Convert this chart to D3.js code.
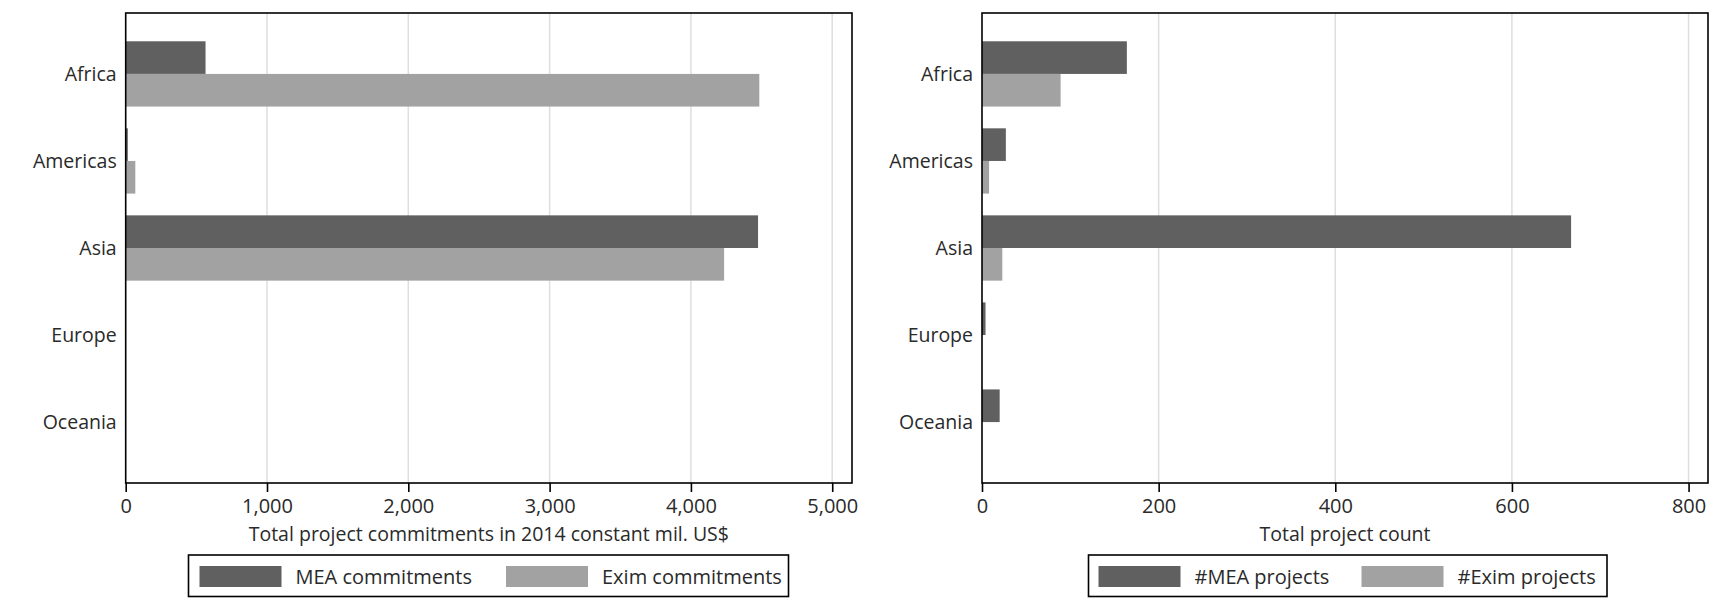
<!DOCTYPE html>
<html>
<head>
<meta charset="utf-8">
<script src="https://cdnjs.cloudflare.com/ajax/libs/d3/7.8.5/d3.min.js"></script>
<style>
  body { margin: 0; background: #fff; }
  svg text { font-family: "Open Sans", "Noto Sans", sans-serif; fill: #2a2a2a; }
</style>
</head>
<body>
<div id="chart"></div>
<script>
// regions shown on the y axis
var regions = ['Africa', 'Americas', 'Asia', 'Europe', 'Oceania']

// left panel: commitments, 2014 constant mil. US$
var meaCommit  = [565, 15, 4475, 0, 0]
var eximCommit = [4484, 68, 4235, 0, 0]
var commitTicks = [0, 1000, 2000, 3000, 4000, 5000]

// right panel: project counts
var meaCount  = [164, 27, 667, 4, 20]
var eximCount = [89, 8, 23, 0, 0]
var countTicks = [0, 200, 400, 600, 800]

var DARK = '#606060', LIGHT = '#a2a2a2'

var svg = d3.select('#chart').append('svg')
  .attr('width', 1720).attr('height', 607)

function panel(opt){
  var g = svg.append('g')
  var x = d3.scaleLinear().domain([0, opt.max]).range([opt.left, opt.right])
  var y = d3.scalePoint().domain(regions).range([13, 483]).padding(0.7)
  var bh = y.step() * 0.375

  // grid
  g.selectAll('line.grid').data(opt.ticks.slice(1)).enter().append('line')
    .attr('x1', d => x(d)).attr('x2', d => x(d))
    .attr('y1', 13).attr('y2', 483)
    .attr('stroke', '#dedede').attr('stroke-width', 1.5)

  // bars
  var series = [{vals: opt.mea, clr: DARK, off: -bh}, {vals: opt.exim, clr: LIGHT, off: 0}]
  series.forEach(function(s){
    g.selectAll(null).data(regions).enter().append('rect')
      .attr('x', x(0))
      .attr('y', d => y(d) + s.off)
      .attr('width', (d, i) => x(s.vals[i]) - x(0))
      .attr('height', bh)
      .attr('fill', s.clr)
  })

  // frame
  g.append('rect')
    .attr('x', opt.left).attr('y', 13)
    .attr('width', opt.right - opt.left).attr('height', 483 - 13)
    .attr('fill', 'none').attr('stroke', '#000').attr('stroke-width', 1.6)

  // x axis
  var xa = g.append('g').attr('transform', 'translate(0,483)')
    .call(d3.axisBottom(x).tickValues(opt.ticks).tickSize(9).tickPadding(7)
      .tickFormat(d3.format(',')))
  xa.select('.domain').remove()
  xa.selectAll('line').attr('stroke', '#000').attr('stroke-width', 1.6)
  xa.selectAll('text').style('font-size', '20px').attr('fill', '#2a2a2a')

  // y labels
  g.selectAll('text.cat').data(regions).enter().append('text')
    .attr('x', opt.left - 9).attr('y', d => y(d)).attr('dy', '0.35em')
    .attr('text-anchor', 'end').style('font-size', '19.5px')
    .text(d => d)

  // axis title
  g.append('text')
    .attr('x', (opt.left + opt.right) / 2).attr('y', 541)
    .attr('text-anchor', 'middle').style('font-size', '19.5px')
    .text(opt.title)

  // legend
  var lg = g.append('g')
  lg.append('rect')
    .attr('x', opt.leg[0]).attr('y', 555)
    .attr('width', opt.leg[1] - opt.leg[0]).attr('height', 41.5)
    .attr('fill', '#fff').attr('stroke', '#000').attr('stroke-width', 1.6)
  opt.keys.forEach(function(k){
    lg.append('rect').attr('x', k.x).attr('y', 566).attr('width', 82).attr('height', 21)
      .attr('fill', k.clr)
    lg.append('text').attr('x', k.x + 96).attr('y', 576.5).attr('dy', '0.35em')
      .style('font-size', '20px').text(k.label)
  })
}

panel({
  left: 125.7, right: 852, max: 5140, ticks: commitTicks,
  mea: meaCommit, exim: eximCommit,
  title: 'Total project commitments in 2014 constant mil. US$',
  leg: [188.5, 788.5],
  keys: [{x: 199.5, clr: DARK, label: 'MEA commitments'},
         {x: 506, clr: LIGHT, label: 'Exim commitments'}]
})

panel({
  left: 982, right: 1708, max: 822, ticks: countTicks,
  mea: meaCount, exim: eximCount,
  title: 'Total project count',
  leg: [1088.5, 1607],
  keys: [{x: 1098.5, clr: DARK, label: '#MEA projects'},
         {x: 1361.5, clr: LIGHT, label: '#Exim projects'}]
})
</script>
</body>
</html>
